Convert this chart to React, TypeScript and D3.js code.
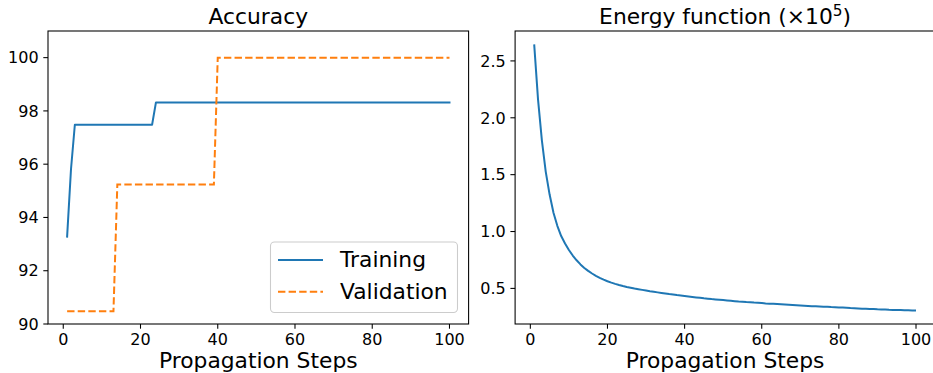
import React, { useRef, useEffect } from "react";
import * as d3 from "d3";

// propagation step for every point (1..100)
const steps = d3.range(1, 101);

const trainingAcc = [
  93.28, 95.8, 97.48, 97.48, 97.48, 97.48, 97.48, 97.48, 97.48, 97.48,
  97.48, 97.48, 97.48, 97.48, 97.48, 97.48, 97.48, 97.48, 97.48, 97.48,
  97.48, 97.48, 97.48, 98.32, 98.32, 98.32, 98.32, 98.32, 98.32, 98.32,
  98.32, 98.32, 98.32, 98.32, 98.32, 98.32, 98.32, 98.32, 98.32, 98.32,
  98.32, 98.32, 98.32, 98.32, 98.32, 98.32, 98.32, 98.32, 98.32, 98.32,
  98.32, 98.32, 98.32, 98.32, 98.32, 98.32, 98.32, 98.32, 98.32, 98.32,
  98.32, 98.32, 98.32, 98.32, 98.32, 98.32, 98.32, 98.32, 98.32, 98.32,
  98.32, 98.32, 98.32, 98.32, 98.32, 98.32, 98.32, 98.32, 98.32, 98.32,
  98.32, 98.32, 98.32, 98.32, 98.32, 98.32, 98.32, 98.32, 98.32, 98.32,
  98.32, 98.32, 98.32, 98.32, 98.32, 98.32, 98.32, 98.32, 98.32, 98.32,
];

const validationAcc = [
  90.48, 90.48, 90.48, 90.48, 90.48, 90.48, 90.48, 90.48, 90.48, 90.48,
  90.48, 90.48, 90.48, 95.24, 95.24, 95.24, 95.24, 95.24, 95.24, 95.24,
  95.24, 95.24, 95.24, 95.24, 95.24, 95.24, 95.24, 95.24, 95.24, 95.24,
  95.24, 95.24, 95.24, 95.24, 95.24, 95.24, 95.24, 95.24, 95.24, 100,
  100, 100, 100, 100, 100, 100, 100, 100, 100, 100,
  100, 100, 100, 100, 100, 100, 100, 100, 100, 100,
  100, 100, 100, 100, 100, 100, 100, 100, 100, 100,
  100, 100, 100, 100, 100, 100, 100, 100, 100, 100,
  100, 100, 100, 100, 100, 100, 100, 100, 100, 100,
  100, 100, 100, 100, 100, 100, 100, 100, 100, 100,
];

// energy in units of 1e5
const energy = [
  2.646, 2.16, 1.8, 1.525, 1.325, 1.165, 1.05, 0.96, 0.895, 0.838,
  0.789, 0.747, 0.711, 0.68, 0.654, 0.631, 0.611, 0.593, 0.577, 0.563,
  0.551, 0.54, 0.53, 0.521, 0.513, 0.506, 0.499, 0.493, 0.487, 0.481,
  0.475, 0.47, 0.465, 0.46, 0.455, 0.45, 0.446, 0.441, 0.437, 0.433,
  0.429, 0.425, 0.421, 0.417, 0.413, 0.41, 0.406, 0.403, 0.4, 0.397,
  0.394, 0.391, 0.388, 0.385, 0.383, 0.38, 0.378, 0.375, 0.373, 0.371,
  0.368, 0.366, 0.364, 0.362, 0.36, 0.358, 0.356, 0.354, 0.352, 0.35,
  0.348, 0.346, 0.344, 0.343, 0.341, 0.339, 0.338, 0.336, 0.335, 0.333,
  0.331, 0.329, 0.327, 0.326, 0.324, 0.322, 0.321, 0.319, 0.318, 0.316,
  0.315, 0.314, 0.312, 0.311, 0.31, 0.309, 0.308, 0.307, 0.306, 0.305,
];

const xTicks = [0, 20, 40, 60, 80, 100];
const accTicks = [90, 92, 94, 96, 98, 100];
const energyTicks = [0.5, 1.0, 1.5, 2.0, 2.5];

const BLUE = "#1f77b4";
const ORANGE = "#ff7f0e";
const BIG = 21.8;

const App = () => {
  const svgRef = useRef(null);

  useEffect(() => {
    const svg = d3.select(svgRef.current);
    svg.selectAll("*").remove();

    const top = 31;
    const bottom = 324;
    const tickLen = 4.7;

    const drawPanel = (left, right, yDomain, yTicks, yFmt, title) => {
      const x = d3.scaleLinear().domain([-3.95, 104.95]).range([left, right]);
      const y = d3.scaleLinear().domain(yDomain).range([bottom, top]);
      const g = svg.append("g");

      // clip for lines
      const id = "clip" + Math.round(left);
      svg.append("clipPath").attr("id", id)
        .append("rect").attr("x", left).attr("y", top)
        .attr("width", right - left).attr("height", bottom - top);

      // x ticks
      xTicks.forEach((t) => {
        g.append("line")
          .attr("x1", x(t)).attr("x2", x(t))
          .attr("y1", bottom).attr("y2", bottom + tickLen)
          .attr("stroke", "#000").attr("stroke-width", 1.07);
        g.append("text")
          .attr("x", x(t)).attr("y", bottom + 20.5)
          .attr("text-anchor", "middle")
          .attr("font-size", 16)
          .text(t);
      });

      // y ticks
      yTicks.forEach((t) => {
        g.append("line")
          .attr("x1", left - tickLen).attr("x2", left)
          .attr("y1", y(t)).attr("y2", y(t))
          .attr("stroke", "#000").attr("stroke-width", 1.07);
        g.append("text")
          .attr("x", left - tickLen - 4.7).attr("y", y(t))
          .attr("dy", "0.36em")
          .attr("text-anchor", "end")
          .attr("font-size", 16)
          .text(yFmt(t));
      });

      // x label
      g.append("text")
        .attr("x", (left + right) / 2).attr("y", 367.7)
        .attr("text-anchor", "middle")
        .attr("font-size", BIG)
        .text("Propagation Steps");

      // title
      const tt = g.append("text")
        .attr("x", (left + right) / 2).attr("y", 24.3)
        .attr("text-anchor", "middle")
        .attr("font-size", BIG);
      title(tt);

      return { x, y, g, id };
    };

    /*** Accuracy panel ***/
    const acc = drawPanel(48, 468.6, [90, 101], accTicks, (d) => d,
      (t) => t.text("Accuracy"));

    const accLine = (vals) => d3.line()
      .x((d, i) => acc.x(steps[i]))
      .y((d) => acc.y(d))(vals);

    const accLines = svg.append("g").attr("clip-path", `url(#${acc.id})`);
    accLines.append("path")
      .attr("d", accLine(trainingAcc))
      .attr("fill", "none").attr("stroke", BLUE).attr("stroke-width", 2)
      .attr("stroke-linejoin", "round").attr("stroke-linecap", "square");
    accLines.append("path")
      .attr("d", accLine(validationAcc))
      .attr("fill", "none").attr("stroke", ORANGE).attr("stroke-width", 2)
      .attr("stroke-dasharray", "7.4,3.2");

    // legend
    const lg = svg.append("g");
    lg.append("rect")
      .attr("x", 270.5).attr("y", 242).attr("width", 187).attr("height", 70.5)
      .attr("rx", 4).attr("fill", "#fff").attr("fill-opacity", 0.8)
      .attr("stroke", "#cccccc").attr("stroke-width", 1.07);
    [
      { label: "Training", color: BLUE, dash: null, y: 260 },
      { label: "Validation", color: ORANGE, dash: "7.4,3.2", y: 291.7 },
    ].forEach((item) => {
      lg.append("line")
        .attr("x1", 278).attr("x2", 323)
        .attr("y1", item.y).attr("y2", item.y)
        .attr("stroke", item.color).attr("stroke-width", 2)
        .attr("stroke-dasharray", item.dash);
      lg.append("text")
        .attr("x", 340).attr("y", item.y).attr("dy", "0.34em")
        .attr("font-size", BIG)
        .text(item.label);
    });

    /*** Energy panel ***/
    const en = drawPanel(515.1, 935.1, [0.187, 2.763], energyTicks, d3.format(".1f"),
      (t) => {
        t.append("tspan").text("Energy function (×10");
        t.append("tspan").attr("font-size", 15.3).attr("dy", -8.5).text("5");
        t.append("tspan").attr("dy", 8.5).text(")");
      });

    svg.append("g").attr("clip-path", `url(#${en.id})`)
      .append("path")
      .attr("d", d3.line().x((d, i) => en.x(steps[i])).y((d) => en.y(d))(energy))
      .attr("fill", "none").attr("stroke", BLUE).attr("stroke-width", 2)
      .attr("stroke-linejoin", "round");

    // spines on top
    [acc, en].forEach((p) => {
      const [l, r] = p.x.range();
      svg.append("rect")
        .attr("x", l).attr("y", top).attr("width", r - l).attr("height", bottom - top)
        .attr("fill", "none").attr("stroke", "#000").attr("stroke-width", 1.07);
    });
  }, []);

  return (
    <svg
      ref={svgRef}
      width={933}
      height={373}
      style={{ position: "absolute", left: 0, top: 0, background: "#fff", fontFamily: "DejaVu Sans, sans-serif" }}
    ></svg>
  );
};

export default App;
